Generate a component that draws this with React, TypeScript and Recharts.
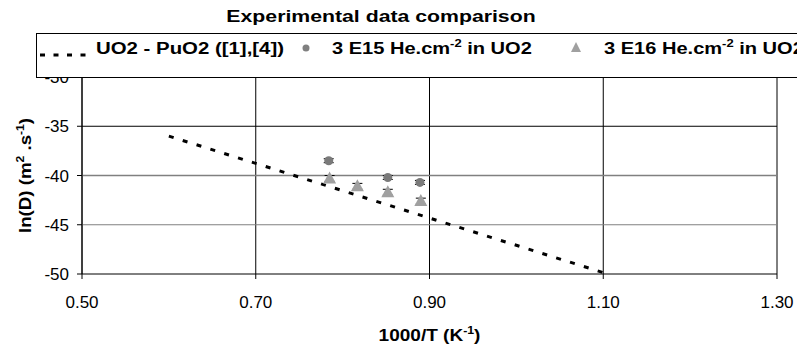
import React from "react"
import {
  ComposedChart,
  Line,
  Scatter,
  ErrorBar,
  XAxis,
  YAxis,
  CartesianGrid,
  ReferenceLine,
  Legend,
} from "recharts"

const FONT = "'Liberation Sans', Arial, sans-serif"

// UO2 - PuO2 ([1],[4]) trend line
const lineX = [0.6, 1.105]
const lineY = [-36.0, -50.0]

// 3 E15 He.cm-2 in UO2
const e15X = [0.784, 0.852, 0.889]
const e15Y = [-38.5, -40.2, -40.7]
const e15Err = [0.2, 0.2, 0.2]

// 3 E16 He.cm-2 in UO2
const e16X = [0.785, 0.817, 0.852, 0.89]
const e16Y = [-40.3, -41.1, -41.7, -42.6]
const e16Err = [0.3, 0.3, 0.3, 0.3]

const xTicks = [0.5, 0.7, 0.9, 1.1, 1.3]
const yTicks = [-50, -45, -40, -35, -30]

const lineData = lineX.map((x, i) => ({ x, y: lineY[i] }))
const e15Data = e15X.map((x, i) => ({ x, y: e15Y[i], err: e15Err[i] }))
const e16Data = e16X.map((x, i) => ({ x, y: e16Y[i], err: e16Err[i] }))

const Circle = (props: any) => <circle cx={props.cx} cy={props.cy} r={4.5} fill="#7a7a7a" />

const Triangle = (props: any) => {
  const { cx, cy } = props
  return <polygon points={`${cx},${cy - 7} ${cx - 6.5},${cy + 5} ${cx + 6.5},${cy + 5}`} fill="#a0a0a0" />
}

// bold text, stretched horizontally like the original rendering
const Wide = ({ x, y, sx = 1.2, anchor = "start", children }: any) => (
  <g transform={`translate(${x} ${y}) scale(${sx} 1)`}>
    <text x={0} y={0} textAnchor={anchor} fontSize={17} fontWeight="bold" fontFamily={FONT} fill="#000">
      {children}
    </text>
  </g>
)

const XLabel = (props: any) => {
  const { x, y, width } = props.viewBox
  return (
    <Wide x={x + width / 2} y={y + 67} sx={1.12} anchor="middle">
      1000/T (K<tspan dy={-7} fontSize={11}>-1</tspan><tspan dy={7}>)</tspan>
    </Wide>
  )
}

const YLabel = (props: any) => {
  const { y, height } = props.viewBox
  const cx = 31
  const cy = y + height / 2
  return (
    <g transform={`rotate(-90 ${cx} ${cy})`}>
      <Wide x={cx} y={cy} sx={1.1} anchor="middle">
        ln(D) (m<tspan dy={-7} fontSize={11}>2</tspan><tspan dy={7}> .s</tspan><tspan dy={-7} fontSize={11}>-1</tspan><tspan dy={7}>)</tspan>
      </Wide>
    </g>
  )
}

const LegendBox = () => (
  <div style={{ position: "relative", width: 790, height: 43, border: "1px solid #000", background: "#fff", boxSizing: "content-box" }}>
    <svg width={790} height={43} style={{ position: "absolute", left: 0, top: 0 }}>
      <line x1={3} y1={21} x2={52} y2={21} stroke="#000" strokeWidth={3} strokeDasharray="5 8.5" />
      <Wide x={59} y={20} sx={1.2}>UO2 - PuO2 ([1],[4])</Wide>
      <circle cx={269} cy={14} r={3.5} fill="#808080" />
      <Wide x={295} y={20} sx={1.18}>
        3 E15 He.cm<tspan dy={-7} fontSize={11}>-2</tspan><tspan dy={7}> in  UO2</tspan>
      </Wide>
      <polygon points="539,8 534,18 544,18" fill="#a0a0a0" />
      <Wide x={567} y={20} sx={1.18}>
        3 E16 He.cm<tspan dy={-7} fontSize={11}>-2</tspan><tspan dy={7}> in  UO2</tspan>
      </Wide>
    </svg>
  </div>
)

export default function App() {
  return (
    <div style={{ position: "absolute", left: 0, top: 0, width: 797, height: 354, background: "#fff", fontFamily: FONT }}>
      <svg width={797} height={30} style={{ position: "absolute", left: 0, top: 0 }}>
        <Wide x={381} y={22} sx={1.25} anchor="middle">Experimental data comparison</Wide>
      </svg>
      <ComposedChart width={797} height={354} margin={{ top: 77, right: 20, bottom: 0, left: 0 }} style={{ fontFamily: FONT }}>
        <CartesianGrid horizontal={false} stroke="#000" strokeOpacity={1} />
        <ReferenceLine y={-35} stroke="#000" />
        <ReferenceLine y={-40} stroke="#808080" strokeWidth={1.5} />
        <ReferenceLine y={-45} stroke="#808080" />
        <XAxis
          type="number"
          dataKey="x"
          domain={[0.5, 1.3]}
          ticks={xTicks}
          tickFormatter={(v: number) => v.toFixed(2)}
          height={80}
          tickSize={5}
          tickMargin={17}
          stroke="#000"
          tick={{ fill: "#000", fontSize: 17 }}
          label={<XLabel />}
        />
        <YAxis
          type="number"
          domain={[-50, -30]}
          ticks={yTicks}
          width={82}
          tickSize={5}
          tickMargin={8}
          stroke="#000"
          tick={{ fill: "#000", fontSize: 17 }}
          label={<YLabel />}
        />
        <Line
          data={lineData}
          dataKey="y"
          stroke="#000"
          strokeWidth={3}
          strokeDasharray="5 9.5"
          dot={false}
          activeDot={false}
          isAnimationActive={false}
          legendType="none"
        />
        <Scatter data={e15Data} dataKey="y" shape={<Circle />} isAnimationActive={false}>
          <ErrorBar dataKey="err" direction="y" width={5} stroke="#000" strokeWidth={1} isAnimationActive={false} />
        </Scatter>
        <Scatter data={e16Data} dataKey="y" shape={<Triangle />} isAnimationActive={false}>
          <ErrorBar dataKey="err" direction="y" width={5} stroke="#000" strokeWidth={1} isAnimationActive={false} />
        </Scatter>
        <Legend
          layout="vertical"
          align="center"
          verticalAlign="middle"
          content={() => <LegendBox />}
          wrapperStyle={{ left: 36, top: 33, width: 792, height: 45 }}
        />
      </ComposedChart>
    </div>
  )
}
